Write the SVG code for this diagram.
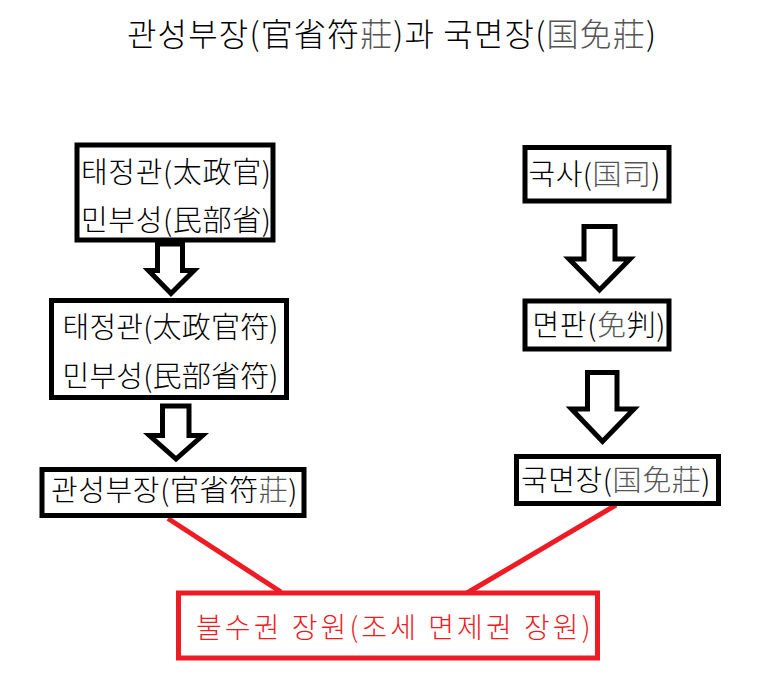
<svg xmlns="http://www.w3.org/2000/svg" width="767" height="679" viewBox="0 0 767 679">
<style>
text{font-family:"Noto Sans CJK KR","Noto Sans CJK SC",sans-serif;fill:#000;font-weight:300}
.box{fill:#fff;stroke:#000;stroke-width:5}
.red{fill:#fff;stroke:#ed1c24;stroke-width:5}
.arrow{fill:#fff;stroke:#000;stroke-width:5;stroke-linejoin:miter}
.link{stroke:#ed1c24;stroke-width:5;fill:none}
.t{font-size:29px}
.g{fill:#555}
.rt{font-size:28px;fill:#ed1c24}
</style>
<rect width="767" height="679" fill="#fff"/>
<g id="title">
<text x="127" y="45.5" font-size="32" textLength="529" lengthAdjust="spacing">관성부장(官省符<tspan class="g">莊</tspan>)과 국면장(<tspan class="g">国免莊</tspan>)</text>
</g>
<g id="connectors">
<path class="arrow" d="M157.5,244 H182.5 V270.5 H194 L171,293.5 L148.5,270.5 H157.5 Z"/>
<path class="arrow" d="M162.5,406 H189 V435.5 H202.5 L176,459 L149.5,435.5 H162.5 Z"/>
<path class="arrow" d="M584,226.5 H615 V259 H630 L599.5,290 L569,259 H584 Z"/>
<path class="arrow" d="M587.5,372.5 H617 V409 H634 L602.5,441.5 L571.5,409 H587.5 Z"/>
<line class="link" x1="168" y1="518.5" x2="281" y2="592"/>
<line class="link" x1="616" y1="505" x2="467" y2="593"/>
</g>
<g id="node-taejeonggwan">
<rect class="box" x="77" y="145" width="196" height="95"/>
<text class="t" x="81" y="182.5" textLength="190" lengthAdjust="spacing">태정관(太政官)</text>
<text class="t" x="81" y="231" textLength="190" lengthAdjust="spacing">민부성(民部省)</text>
</g>
<g id="node-taejeonggwanbu">
<rect class="box" x="51.5" y="300.5" width="235" height="97"/>
<text class="t" x="62.5" y="337.5" textLength="216" lengthAdjust="spacing">태정관(太政官符)</text>
<text class="t" x="62.5" y="387" textLength="216" lengthAdjust="spacing">민부성(民部省符)</text>
</g>
<g id="node-gwanseongbujang">
<rect class="box" x="42" y="469.5" width="262" height="46"/>
<text class="t" x="51" y="501" textLength="246.5" lengthAdjust="spacing">관성부장(官省符<tspan class="g">莊</tspan>)</text>
</g>
<g id="node-guksa">
<rect class="box" x="525" y="147.5" width="144" height="53.5"/>
<text class="t" x="528.5" y="185" textLength="132" lengthAdjust="spacing">국사(<tspan class="g">国司</tspan>)</text>
</g>
<g id="node-myeonpan">
<rect class="box" x="525" y="301" width="144" height="48"/>
<text class="t" x="532.5" y="336" textLength="133" lengthAdjust="spacing">면판(<tspan class="g">免</tspan>判)</text>
</g>
<g id="node-gukmyeonjang">
<rect class="box" x="516.5" y="456.5" width="202" height="47"/>
<text class="t" x="521" y="491" textLength="189.5" lengthAdjust="spacing">국면장(<tspan class="g">国免莊</tspan>)</text>
</g>
<g id="node-bulsugwon">
<rect class="red" x="178.5" y="593" width="419" height="65"/>
<text class="rt" x="196" y="638" textLength="394.5" lengthAdjust="spacing">불수권 장원(조세 면제권 장원)</text>
</g>
</svg>
